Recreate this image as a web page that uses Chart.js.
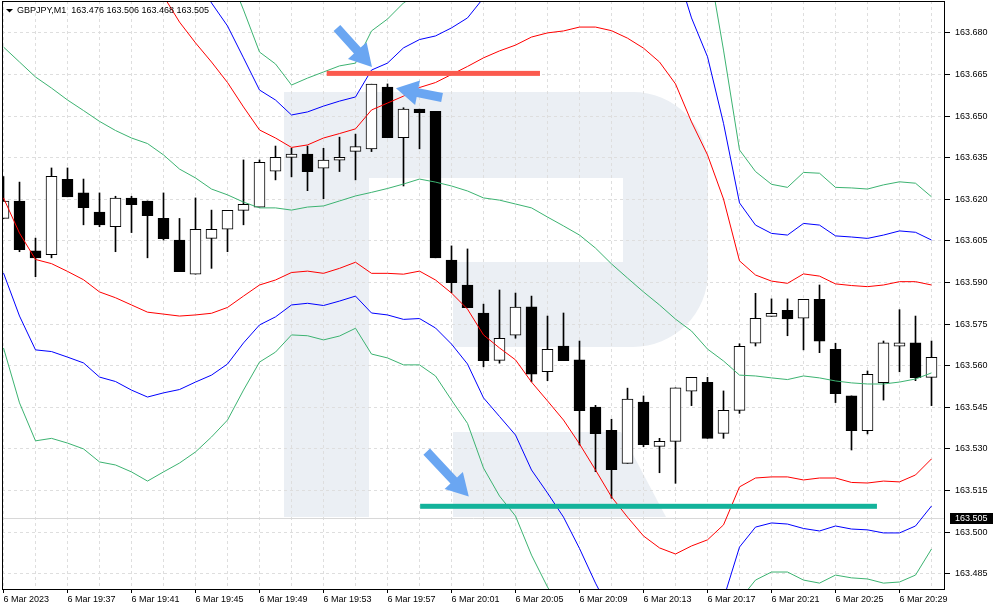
<!DOCTYPE html>
<html>
<head>
<meta charset="utf-8">
<script src="https://cdn.jsdelivr.net/npm/chart.js@4.4.1/dist/chart.umd.min.js"></script>
<style>
  html, body { margin: 0; padding: 0; background: #fff; }
  #wrap { width: 993px; height: 610px; }
</style>
</head>
<body>
<div id="wrap"><canvas id="chart" width="993" height="610"></canvas></div>
<script>
// GBPJPY M1, 6 Mar 2023, one candle per minute
const TIMES = [
  "19:33","19:34","19:35","19:36","19:37","19:38","19:39","19:40","19:41","19:42",
  "19:43","19:44","19:45","19:46","19:47","19:48","19:49","19:50","19:51","19:52",
  "19:53","19:54","19:55","19:56","19:57","19:58","19:59","20:00","20:01","20:02",
  "20:03","20:04","20:05","20:06","20:07","20:08","20:09","20:10","20:11","20:12",
  "20:13","20:14","20:15","20:16","20:17","20:18","20:19","20:20","20:21","20:22",
  "20:23","20:24","20:25","20:26","20:27","20:28","20:29","20:30","20:31"
];

const OPEN = [
  163.6131,163.6194,163.6014,163.6000,163.6272,163.6223,163.6154,163.6101,163.6204,163.6194,
  163.6131,163.6053,163.5930,163.6059,163.6092,163.6160,163.6172,163.6301,163.6351,163.6363,
  163.6312,163.6341,163.6373,163.6382,163.6605,163.6422,163.6525,163.6517,163.5981,163.5891,
  163.5790,163.5619,163.5710,163.5812,163.5578,163.5671,163.5621,163.5451,163.5367,163.5248,
  163.5469,163.5309,163.5327,163.5508,163.5540,163.5356,163.5439,163.5681,163.5778,163.5800,
  163.5771,163.5839,163.5659,163.5491,163.5366,163.5539,163.5670,163.5682,163.5558
];
const HIGH = [
  163.6282,163.6262,163.6060,163.6313,163.6313,163.6273,163.6223,163.6211,163.6211,163.6194,
  163.6223,163.6131,163.6205,163.6161,163.6160,163.6342,163.6342,163.6392,163.6384,163.6392,
  163.6384,163.6424,163.6435,163.6615,163.6616,163.6530,163.6525,163.6517,163.6032,163.6021,
  163.5822,163.5873,163.5862,163.5851,163.5779,163.5790,163.5689,163.5457,163.5407,163.5519,
  163.5491,163.5338,163.5520,163.5558,163.5558,163.5509,163.5679,163.5861,163.5841,163.5841,
  163.5839,163.5891,163.5681,163.5491,163.5581,163.5689,163.5802,163.5779,163.5689
];
const LOW = [
  163.6131,163.6011,163.5921,163.5989,163.6209,163.6108,163.6101,163.6011,163.6080,163.5989,
  163.6053,163.5939,163.5930,163.5951,163.6011,163.6108,163.6172,163.6270,163.6281,163.6231,
  163.6202,163.6300,163.6270,163.6372,163.6422,163.6248,163.6382,163.5989,163.5863,163.5809,
  163.5596,163.5609,163.5699,163.5542,163.5546,163.5618,163.5314,163.5218,163.5122,163.5248,
  163.5308,163.5214,163.5176,163.5456,163.5338,163.5338,163.5428,163.5671,163.5778,163.5708,
  163.5657,163.5647,163.5467,163.5296,163.5354,163.5476,163.5578,163.5546,163.5456
];
const CLOSE = [
  163.6194,163.6018,163.5989,163.6283,163.6209,163.6170,163.6108,163.6204,163.6181,163.6141,
  163.6058,163.5939,163.6092,163.6092,163.6160,163.6182,163.6333,163.6351,163.6363,163.6300,
  163.6341,163.6351,163.6390,163.6615,163.6422,163.6525,163.6512,163.5989,163.5899,163.5809,
  163.5618,163.5699,163.5811,163.5569,163.5659,163.5618,163.5438,163.5355,163.5225,163.5480,
  163.5315,163.5327,163.5520,163.5558,163.5338,163.5439,163.5670,163.5771,163.5789,163.5769,
  163.5839,163.5688,163.5499,163.5366,163.5569,163.5682,163.5682,163.5557,163.5630
];

// Bollinger style envelopes: middle line and three pairs of bands
const BB_MID = [
  163.6749,163.6695,163.6641,163.6601,163.6558,163.6520,163.6481,163.6448,163.6421,163.6401,
  163.6360,163.6309,163.6277,163.6237,163.6216,163.6190,163.6169,163.6169,163.6161,163.6172,
  163.6176,163.6194,163.6212,163.6225,163.6239,163.6255,163.6273,163.6262,163.6248,163.6230,
  163.6205,163.6197,163.6183,163.6169,163.6136,163.6104,163.6071,163.6024,163.5967,163.5916,
  163.5866,163.5819,163.5768,163.5725,163.5660,163.5617,163.5566,163.5563,163.5556,163.5550,
  163.5563,163.5556,163.5545,163.5538,163.5534,163.5534,163.5541,163.5552,163.5574
];
const BB_UP_RED = [
  163.7294,163.7312,163.7299,163.7235,163.7176,163.7130,163.7095,163.7051,163.7023,163.7010,
  163.6933,163.6839,163.6764,163.6695,163.6621,163.6533,163.6450,163.6421,163.6387,163.6396,
  163.6421,163.6437,163.6454,163.6522,163.6547,163.6572,163.6603,163.6621,163.6650,163.6679,
  163.6710,163.6735,163.6756,163.6785,163.6800,163.6807,163.6821,163.6821,163.6808,163.6781,
  163.6745,163.6695,163.6616,163.6479,163.6360,163.6201,163.5978,163.5927,163.5905,163.5897,
  163.5931,163.5923,163.5895,163.5889,163.5885,163.5891,163.5903,163.5903,163.5891
];
const BB_LO_RED = [
  163.6205,163.6078,163.5983,163.5968,163.5940,163.5910,163.5866,163.5845,163.5819,163.5793,
  163.5786,163.5779,163.5783,163.5789,163.5810,163.5851,163.5891,163.5909,163.5936,163.5941,
  163.5933,163.5951,163.5973,163.5933,163.5933,163.5930,163.5941,163.5909,163.5862,163.5804,
  163.5711,163.5664,163.5621,163.5541,163.5473,163.5404,163.5318,163.5224,163.5127,163.5054,
  163.4986,163.4943,163.4921,163.4950,163.4972,163.5026,163.5163,163.5195,163.5199,163.5199,
  163.5188,163.5195,163.5195,163.5179,163.5177,163.5184,163.5181,163.5206,163.5264
];
const BB_UP_BLUE = [
  163.7564,163.7611,163.7625,163.7552,163.7485,163.7431,163.7402,163.7353,163.7330,163.7315,
  163.7218,163.7104,163.7012,163.6908,163.6825,163.6710,163.6594,163.6558,163.6504,163.6515,
  163.6536,163.6554,163.6569,163.6666,163.6691,163.6746,163.6776,163.6789,163.6818,163.6854,
  163.6926,163.6978,163.7016,163.7113,163.7131,163.7153,163.7202,163.7232,163.7229,163.7214,
  163.7186,163.7133,163.7039,163.6854,163.6714,163.6474,163.6187,163.6107,163.6077,163.6071,
  163.6113,163.6107,163.6068,163.6064,163.6059,163.6071,163.6086,163.6081,163.6053
];
const BB_LO_BLUE = [
  163.5934,163.5779,163.5657,163.5651,163.5631,163.5610,163.5559,163.5543,163.5512,163.5487,
  163.5502,163.5514,163.5541,163.5566,163.5606,163.5682,163.5747,163.5776,163.5819,163.5825,
  163.5817,163.5833,163.5851,163.5790,163.5783,163.5767,163.5770,163.5736,163.5678,163.5606,
  163.5484,163.5417,163.5350,163.5224,163.5141,163.5054,163.4941,163.4816,163.4705,163.4622,
  163.4553,163.4506,163.4503,163.4600,163.4607,163.4759,163.4946,163.5018,163.5033,163.5029,
  163.5013,163.5004,163.5022,163.5011,163.5008,163.4997,163.4997,163.5022,163.5094
];
const BB_UP_GREEN = [
  163.7835,163.7925,163.7954,163.7865,163.7795,163.7741,163.7708,163.7654,163.7625,163.7618,
  163.7503,163.7369,163.7265,163.7131,163.7027,163.6883,163.6731,163.6688,163.6612,163.6637,
  163.6659,163.6681,163.6691,163.6807,163.6850,163.6908,163.6944,163.6962,163.7020,163.7068,
  163.7178,163.7265,163.7308,163.7420,163.7470,163.7503,163.7579,163.7625,163.7647,163.7647,
  163.7625,163.7571,163.7463,163.7232,163.7074,163.6738,163.6378,163.6300,163.6254,163.6243,
  163.6297,163.6294,163.6243,163.6241,163.6237,163.6252,163.6263,163.6258,163.6209
];
const BB_LO_GREEN = [
  163.5664,163.5466,163.5329,163.5338,163.5321,163.5300,163.5253,163.5242,163.5217,163.5184,
  163.5217,163.5249,163.5289,163.5343,163.5404,163.5512,163.5613,163.5649,163.5711,163.5708,
  163.5693,163.5707,163.5735,163.5642,163.5628,163.5603,163.5603,163.5563,163.5476,163.5392,
  163.5231,163.5130,163.5058,163.4917,163.4802,163.4705,163.4564,163.4423,163.4286,163.4185,
  163.4106,163.4067,163.4074,163.4218,163.4247,163.4521,163.4755,163.4827,163.4856,163.4856,
  163.4827,163.4816,163.4845,163.4835,163.4831,163.4816,163.4820,163.4845,163.4939
];

const Y_TICKS = [163.485,163.500,163.515,163.530,163.545,163.560,163.575,
                 163.590,163.605,163.620,163.635,163.650,163.665,163.680];
const X_GRID = [0,2,4,6,8,10,12,14,16,18,20,22,24,26,28,30,32,34,36,38,40,42,44,46,48,50,52,54,56,58];
const Y_MIN = 163.47912, Y_MAX = 163.69150;
const X_MIN = -0.09375, X_MAX = 58.84375;

// drawn annotations (price levels and arrows, in candle index / price)
const LAST_PRICE = 163.505;
const LEVELS = [
  { price: 163.6654, from: 20.2, to: 33.53, color: "#fb5a4e" },
  { price: 163.5093, from: 26.04, to: 54.59, color: "#13b39b" }
];
const ARROWS = [
  { x1: 20.84, y1: 163.6818, x2: 23.03, y2: 163.6677 },
  { x1: 27.41, y1: 163.6567, x2: 24.53, y2: 163.6600 },
  { x1: 26.45, y1: 163.5290, x2: 29.08, y2: 163.5128 }
];
const TITLE = "GBPJPY,M1  163.476 163.506 163.468 163.505";

const FONT = "Liberation Sans";

function pts(arr) {
  return arr.map((v, i) => ({ x: i, y: v }));
}

function lineSet(arr, color) {
  return {
    type: "line",
    data: pts(arr),
    borderColor: color,
    borderWidth: 1,
    pointRadius: 0,
    tension: 0,
    fill: false,
    order: 0
  };
}

function drawArrow(ctx, x1, y1, x2, y2) {
  const ang = Math.atan2(y2 - y1, x2 - x1);
  const len = Math.hypot(x2 - x1, y2 - y1);
  const sw = 9, hw = 25, hl = 22;
  ctx.save();
  ctx.translate(x1, y1);
  ctx.rotate(ang);
  ctx.beginPath();
  ctx.moveTo(0, -sw / 2);
  ctx.lineTo(len - hl, -sw / 2);
  ctx.lineTo(len - hl, -hw / 2);
  ctx.lineTo(len, 0);
  ctx.lineTo(len - hl, hw / 2);
  ctx.lineTo(len - hl, sw / 2);
  ctx.lineTo(0, sw / 2);
  ctx.closePath();
  ctx.fill();
  ctx.restore();
}

const decor = {
  id: "decor",
  beforeDraw(chart) {
    const ctx = chart.ctx;
    ctx.save();
    ctx.fillStyle = "#fff";
    ctx.fillRect(0, 0, chart.width, chart.height);
    // faint logo watermark
    ctx.fillStyle = "#ebeff4";
    ctx.beginPath();
    ctx.rect(284, 92, 85, 425);
    ctx.moveTo(369, 92);
    ctx.lineTo(633, 92);
    ctx.arcTo(708, 92, 708, 167, 75);
    ctx.lineTo(708, 272);
    ctx.arcTo(708, 347, 633, 347, 75);
    ctx.lineTo(453, 347);
    ctx.lineTo(453, 262);
    ctx.lineTo(623, 262);
    ctx.lineTo(623, 178);
    ctx.lineTo(369, 178);
    ctx.closePath();
    ctx.moveTo(453, 432);
    ctx.lineTo(621, 432);
    ctx.lineTo(666, 517);
    ctx.lineTo(453, 517);
    ctx.closePath();
    ctx.fill();
    ctx.restore();
  },
  beforeDatasetsDraw(chart) {
    const { ctx, chartArea } = chart;
    const y = Math.round(chart.scales.y.getPixelForValue(LAST_PRICE)) + 0.5;
    ctx.save();
    ctx.strokeStyle = "#d8d8d8";
    ctx.lineWidth = 1;
    ctx.beginPath();
    ctx.moveTo(chartArea.left, y);
    ctx.lineTo(chartArea.right, y);
    ctx.stroke();
    ctx.restore();
  },
  afterDatasetsDraw(chart) {
    const { ctx } = chart;
    const xs = chart.scales.x, ys = chart.scales.y;
    ctx.save();
    LEVELS.forEach((l) => {
      const y = ys.getPixelForValue(l.price);
      ctx.fillStyle = l.color;
      ctx.fillRect(xs.getPixelForValue(l.from), y - 2.5, xs.getPixelForValue(l.to) - xs.getPixelForValue(l.from), 5);
    });
    ctx.fillStyle = "#6aa6f2";
    ARROWS.forEach((a) => {
      drawArrow(ctx, xs.getPixelForValue(a.x1), ys.getPixelForValue(a.y1),
        xs.getPixelForValue(a.x2), ys.getPixelForValue(a.y2));
    });
    ctx.restore();
  },
  afterDraw(chart) {
    const { ctx, chartArea } = chart;
    ctx.save();
    // frame
    ctx.strokeStyle = "#000";
    ctx.lineWidth = 1;
    ctx.strokeRect(chartArea.left + 0.5, chartArea.top + 0.5,
      chartArea.right - chartArea.left - 1, chartArea.bottom - chartArea.top - 1);
    // title
    ctx.fillStyle = "#000";
    ctx.beginPath();
    ctx.moveTo(6, 9);
    ctx.lineTo(13, 9);
    ctx.lineTo(9.5, 12.5);
    ctx.closePath();
    ctx.fill();
    ctx.font = "9px '" + FONT + "'";
    ctx.textBaseline = "middle";
    ctx.textAlign = "left";
    ctx.fillText(TITLE, 17, 11);
    // last price tag on the axis
    const y = Math.round(chart.scales.y.getPixelForValue(LAST_PRICE));
    ctx.fillStyle = "#000";
    ctx.fillRect(950, y - 5, 43, 11);
    ctx.fillStyle = "#fff";
    ctx.fillText(LAST_PRICE.toFixed(3), 955, y + 0.5);
    ctx.restore();
  }
};

Chart.defaults.font.family = FONT;
Chart.defaults.font.size = 9;
Chart.defaults.color = "#000";

const ctx = document.getElementById("chart").getContext("2d");
new Chart(ctx, {
  type: "bar",
  data: {
    datasets: [
      lineSet(BB_UP_GREEN, "#3cb371"),
      lineSet(BB_LO_GREEN, "#3cb371"),
      lineSet(BB_UP_BLUE, "#0000ff"),
      lineSet(BB_LO_BLUE, "#0000ff"),
      lineSet(BB_UP_RED, "#ff0000"),
      lineSet(BB_LO_RED, "#ff0000"),
      lineSet(BB_MID, "#3cb371"),
      {
        // candle bodies
        type: "bar",
        data: OPEN.map((o, i) => ({ x: i, y: [o, CLOSE[i]] })),
        backgroundColor: OPEN.map((o, i) => (CLOSE[i] >= o ? "#ffffff" : "#000000")),
        borderColor: "#000",
        borderWidth: 1,
        borderSkipped: false,
        grouped: false,
        barThickness: 11,
        maxBarThickness: 11,
        clip: 0,
        order: 1
      },
      {
        // wicks
        type: "bar",
        data: LOW.map((l, i) => ({ x: i, y: [l, HIGH[i]] })),
        backgroundColor: "#000",
        borderWidth: 0,
        grouped: false,
        barThickness: 1,
        maxBarThickness: 1,
        clip: 0,
        order: 2
      }
    ]
  },
  options: {
    responsive: false,
    animation: false,
    events: [],
    layout: { padding: { left: 2, top: 1, right: 0, bottom: 0 } },
    plugins: { legend: { display: false }, tooltip: { enabled: false }, title: { display: false } },
    scales: {
      x: {
        type: "linear",
        position: "bottom",
        min: X_MIN,
        max: X_MAX,
        offset: false,
        afterBuildTicks: (s) => { s.ticks = X_GRID.map((v) => ({ value: v })); },
        afterFit: (s) => { s.height = 20; s.paddingLeft = 0; s.paddingRight = 0; },
        grid: {
          offset: false,
          color: "#dedede",
          lineWidth: 1,
          borderDash: [3, 3],
          tickLength: 3,
          tickBorderDash: [],
          tickColor: (c) => (c.tick && c.tick.value % 4 === 0 ? "#000" : "rgba(0,0,0,0)")
        },
        border: { display: false, dash: [3, 3] },
        ticks: {
          autoSkip: false,
          maxRotation: 0,
          minRotation: 0,
          align: "start",
          padding: 1,
          color: "#000",
          font: { family: FONT, size: 9 },
          callback: (v) => (v % 4 !== 0 ? "" : v === 0 ? "6 Mar 2023" : "6 Mar " + TIMES[v])
        }
      },
      y: {
        type: "linear",
        position: "right",
        min: Y_MIN,
        max: Y_MAX,
        afterBuildTicks: (s) => { s.ticks = Y_TICKS.map((v) => ({ value: v })); },
        afterFit: (s) => { s.width = 48; s.paddingTop = 0; s.paddingBottom = 0; },
        grid: {
          color: "#dedede",
          lineWidth: 1,
          borderDash: [3, 3],
          tickLength: 5,
          tickBorderDash: [],
          tickColor: "#000"
        },
        border: { display: false, dash: [3, 3] },
        ticks: {
          padding: 5,
          color: "#000",
          font: { family: FONT, size: 9 },
          callback: (v) => Number(v).toFixed(3)
        }
      }
    }
  },
  plugins: [decor]
});
</script>
</body>
</html>
